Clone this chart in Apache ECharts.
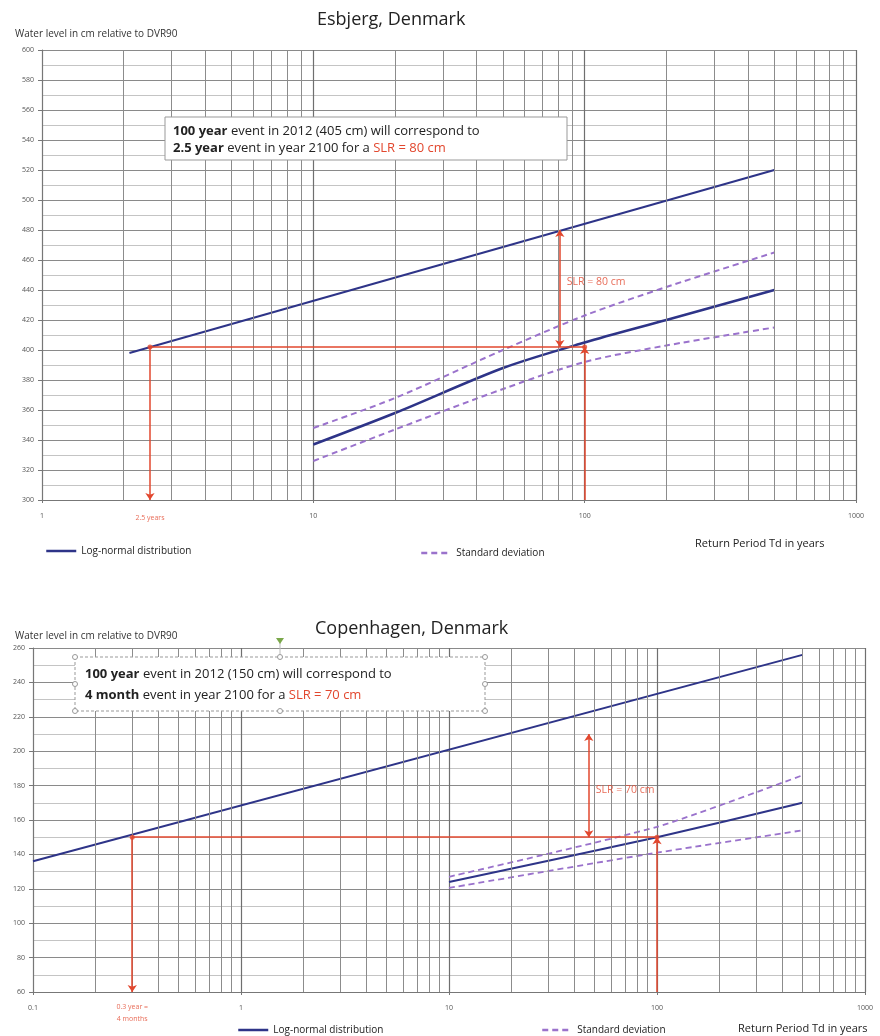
<!DOCTYPE html>
<html>
<head>
<meta charset="utf-8">
<script src="https://cdn.jsdelivr.net/npm/echarts@6/dist/echarts.min.js"></script>
<style>
html,body{margin:0;padding:0;background:#fff;}
#c{width:880px;height:1036px;}
</style>
</head>
<body>
<div id="c"></div>
<script>
// ---------- DATA ----------
// Esbjerg (top chart)
const esbPeriods = [10, 20, 50, 100, 200, 500];
const esbMean2012 = [337, 358, 388, 405, 420, 440];
const esbUpper = [348, 368, 400, 423, 442, 465];
const esbLower = [326, 347, 374, 392, 403, 415];
const esbPeriods2100 = [2.1, 500];
const esbMean2100 = [398, 520];
const esbXTicks = ['1', '10', '100', '1000'];
// Copenhagen (bottom chart)
const cphPeriods = [10, 100, 500];
const cphMean2012 = [124, 150, 170];
const cphUpper = [127, 156, 186];
const cphLower = [120.5, 141, 154];
const cphPeriods2100 = [0.1, 500];
const cphMean2100 = [136, 256];
const cphXTicks = ['0.1', '1', '10', '100', '1000'];
// annotation values
const esbEvent = {from: 2.5, to: 100, level: 402, slrAt: 81, slrTop: 480, bottom: 300};
const cphEvent = {from: 0.3, to: 100, level: 150, slrAt: 47, slrTop: 210, bottom: 60};
const esbMinorX = [2,3,4,5,6,7,8,9,20,30,40,50,60,70,80,90,200,300,400,500,600,700,800,900];
const cphMinorX = [0.2,0.3,0.4,0.5,0.6,0.7,0.8,0.9].concat(esbMinorX);

// ---------- STYLE ----------
const NAVY = '#2e3488';
const PURPLE = '#9a72cc';
const RED = '#e2472e';
const FONT = '"Open Sans", "DejaVu Sans", sans-serif';

const zip = (a, b) => a.map((v, i) => [v, b[i]]);

function xAxisFor(gridIndex, min, max, ticks) {
  return {
    type: 'log', logBase: 10, gridIndex, min, max,
    axisLine: {show: true, onZero: false, lineStyle: {color: '#777'}},
    axisTick: {show: true, length: 3, lineStyle: {color: '#777'}},
    axisLabel: {fontSize: 7, color: '#555', fontFamily: FONT, margin: 12,
      formatter: v => { const s = (+v).toPrecision(3); return ticks.find(t => +t === +s) || String(+s); }},
    splitLine: {show: true, lineStyle: {color: '#6f6f6f', width: 1.2}},
    minorTick: {show: false}, minorSplitLine: {show: false}
  };
}
function yAxisFor(gridIndex, min, max) {
  return {
    type: 'value', gridIndex, min, max, interval: 20,
    axisLine: {show: true, lineStyle: {color: '#777'}},
    axisTick: {show: true, length: 4, lineStyle: {color: '#777'}},
    axisLabel: {fontSize: 7, color: '#555', fontFamily: FONT, margin: 8},
    splitLine: {show: true, lineStyle: {color: '#8a8a8a', width: 1}},
    minorTick: {show: false, splitNumber: 2},
    minorSplitLine: {show: true, lineStyle: {color: '#c4c4c4', width: 1}}
  };
}
function minorVLines(vals) {
  return {
    silent: true, symbol: 'none', label: {show: false},
    lineStyle: {color: '#8c8c8c', width: 1, type: 'solid'},
    emphasis: {disabled: true},
    data: vals.map(v => ({xAxis: v}))
  };
}
function annotation(idx, ev, slrText, slrOffset, bottomText, bottomOffset) {
  const arrow = (a, b, sym) => [{coord: a, symbol: sym[0]}, {coord: b, symbol: sym[1]}];
  return [{
    type: 'line', name: 'annot' + idx, xAxisIndex: idx, yAxisIndex: idx, data: [], z: 5,
    markLine: {
      silent: true, symbolSize: 7, animation: false,
      label: {show: false},
      lineStyle: {color: RED, width: 1.5, type: 'solid'},
      data: [
        arrow([ev.from, ev.level], [ev.to, ev.level], ['none', 'none']),
        arrow([ev.from, ev.level], [ev.from, ev.bottom], ['none', 'arrow']),
        arrow([ev.to, ev.bottom], [ev.to, ev.level], ['none', 'arrow']),
        arrow([ev.slrAt, ev.level], [ev.slrAt, ev.slrTop], ['arrow', 'arrow'])
      ]
    }
  }, {
    type: 'scatter', name: 'pts' + idx, xAxisIndex: idx, yAxisIndex: idx, z: 6, silent: true,
    symbolSize: 5, itemStyle: {color: RED},
    data: [[ev.from, ev.level], [ev.to, ev.level]]
  }, {
    type: 'scatter', name: 'lbl' + idx, xAxisIndex: idx, yAxisIndex: idx, z: 6, silent: true,
    symbolSize: 0,
    data: [
      {value: [ev.slrAt, (ev.level + ev.slrTop) / 2], label: {show: true, formatter: slrText, position: 'right', offset: slrOffset, fontSize: 10.5, color: RED, fontFamily: FONT}},
      {value: [ev.from, ev.bottom], label: {show: true, formatter: bottomText, position: 'bottom', offset: bottomOffset, fontSize: 7, lineHeight: 12, color: RED, fontFamily: FONT, align: 'center'}}
    ]
  }];
}
function lineSeries(idx, name, data, dashed, width, smooth) {
  return {
    type: 'line', name, xAxisIndex: idx, yAxisIndex: idx, data, symbol: 'none', showSymbol: false,
    smooth: smooth || false, silent: true, z: 3,
    lineStyle: {color: dashed ? PURPLE : NAVY, width, type: dashed ? [6, 4] : 'solid'},
    itemStyle: {color: dashed ? PURPLE : NAVY}
  };
}

const legendText = {fontSize: 10, color: '#222', fontFamily: FONT};
const legendBase = {itemWidth: 30, itemHeight: 2, itemGap: 8, selectedMode: false, textStyle: legendText,
  itemStyle: {opacity: 0}, lineStyle: {width: 2.5}};
const boxRich = {b: {fontWeight: 'bold', fontSize: 13, fontFamily: FONT, fill: '#222'}, r: {fill: RED, fontSize: 13, fontFamily: FONT}};
const handles = [[75,657],[280,657],[485,657],[75,684],[485,684],[75,711],[280,711],[485,711]];

const option = {
  animation: false,
  backgroundColor: '#fff',
  title: [
    {text: 'Esbjerg, Denmark', left: 312, top: 6, textStyle: {fontSize: 18, fontWeight: 'normal', color: '#222', fontFamily: FONT}},
    {text: 'Copenhagen, Denmark', left: 310, top: 615, textStyle: {fontSize: 18, fontWeight: 'normal', color: '#222', fontFamily: FONT}},
    {text: 'Water level in cm relative to DVR90', left: 10, top: 24, textStyle: {fontSize: 10, fontWeight: 'normal', color: '#333', fontFamily: FONT}},
    {text: 'Water level in cm relative to DVR90', left: 10, top: 626, textStyle: {fontSize: 10, fontWeight: 'normal', color: '#333', fontFamily: FONT}},
    {text: 'Return Period Td in years', left: 690, top: 533, textStyle: {fontSize: 11, fontWeight: 'normal', color: '#222', fontFamily: FONT}},
    {text: 'Return Period Td in years', left: 733, top: 1018, textStyle: {fontSize: 11, fontWeight: 'normal', color: '#222', fontFamily: FONT}}
  ],
  legend: [
    Object.assign({data: ['Log-normal distribution'], left: 40, top: 541}, legendBase),
    Object.assign({data: ['Standard deviation'], left: 415, top: 543}, legendBase),
    Object.assign({data: ['Log-normal distribution'], left: 232, top: 1020}, legendBase),
    Object.assign({data: ['Standard deviation'], left: 536, top: 1020}, legendBase)
  ],
  grid: [
    {left: 42, right: 24, top: 50, height: 450},
    {left: 33, right: 15, top: 648, height: 344}
  ],
  xAxis: [xAxisFor(0, 1, 1000, esbXTicks), xAxisFor(1, 0.1, 1000, cphXTicks)],
  yAxis: [yAxisFor(0, 300, 600), yAxisFor(1, 60, 260)],
  series: [
    Object.assign(lineSeries(0, 'Log-normal distribution', zip(esbPeriods2100, esbMean2100), false, 2), {markLine: minorVLines(esbMinorX)}),
    lineSeries(0, 'Log-normal distribution', zip(esbPeriods, esbMean2012), false, 2.5, 0.3),
    lineSeries(0, 'Standard deviation', zip(esbPeriods, esbUpper), true, 2, 0.3),
    lineSeries(0, 'Standard deviation', zip(esbPeriods, esbLower), true, 2, 0.3),
    Object.assign(lineSeries(1, 'Log-normal distribution', zip(cphPeriods2100, cphMean2100), false, 2), {markLine: minorVLines(cphMinorX)}),
    lineSeries(1, 'Log-normal distribution', zip(cphPeriods, cphMean2012), false, 2, 0.2),
    lineSeries(1, 'Standard deviation', zip(cphPeriods, cphUpper), true, 1.8, 0.2),
    lineSeries(1, 'Standard deviation', zip(cphPeriods, cphLower), true, 1.8, 0.2)
  ].concat(
    annotation(0, esbEvent, 'SLR = 80 cm', [2, -6], '2.5 years', [0, 7]),
    annotation(1, cphEvent, 'SLR = 70 cm', [2, 4], '0.3 year =\n4 months', [0, 4])
  ),
  graphic: [
    {type: 'rect', z: 100, shape: {x: 165, y: 117, width: 402, height: 43}, style: {fill: '#ffffff', stroke: '#999', lineWidth: 1}},
    {type: 'text', z: 101, x: 173, y: 123, style: {fontFamily: FONT, fontSize: 13, fill: '#222', lineHeight: 17,
      text: '{b|100 year} event in 2012 (405 cm) will correspond to\n{b|2.5 year} event in year 2100 for a {r|SLR = 80 cm}', rich: boxRich}},
    {type: 'rect', z: 100, shape: {x: 75, y: 657, width: 410, height: 54}, style: {fill: '#ffffff', stroke: '#999', lineWidth: 1, lineDash: [3, 2]}},
    {type: 'text', z: 101, x: 85, y: 664, style: {fontFamily: FONT, fontSize: 13, fill: '#222', lineHeight: 21,
      text: '{b|100 year} event in 2012 (150 cm) will correspond to\n{b|4 month} event in year 2100 for a {r|SLR = 70 cm}', rich: boxRich}},
    ...handles.map(p => ({type: 'circle', z: 102, shape: {cx: p[0], cy: p[1], r: 2.5}, style: {fill: '#fff', stroke: '#999', lineWidth: 1}})),
    {type: 'line', z: 101, shape: {x1: 280, y1: 643, x2: 280, y2: 657}, style: {stroke: '#bbb', lineWidth: 1}},
    {type: 'polygon', z: 102, shape: {points: [[276, 638], [284, 638], [280, 644]]}, style: {fill: '#7aa84a'}}
  ]
};

const chart = echarts.init(document.getElementById('c'), null, {renderer: 'canvas'});
chart.setOption(option);
</script>
</body>
</html>
